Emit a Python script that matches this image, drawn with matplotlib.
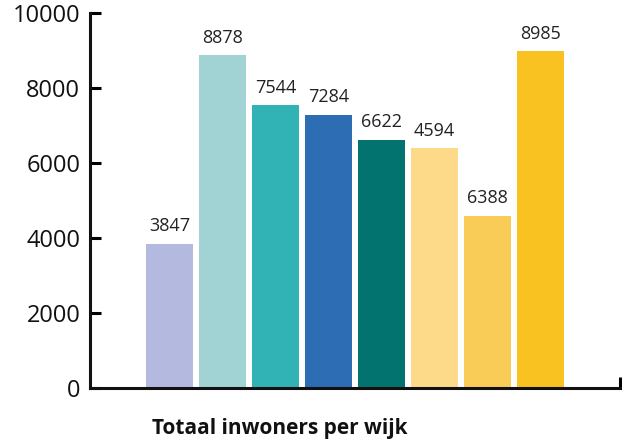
import matplotlib
matplotlib.use("Agg")
import matplotlib.pyplot as plt

plt.rcParams['font.family'] = ['Open Sans', 'DejaVu Sans']

categories = ["Wijk 1", "Wijk 2", "Wijk 3", "Wijk 4", "Wijk 5", "Wijk 6", "Wijk 7", "Wijk 8"]
values = [3847, 8878, 7544, 7284, 6622, 6388, 4594, 8985]
value_labels = ["3847", "8878", "7544", "7284", "6622", "4594", "6388", "8985"]
colors = ["#b3b9df", "#a1d3d4", "#31b3b5", "#2c6db3", "#037370", "#fdd98a", "#f9cc58", "#f9c220"]
yticks = [0, 2000, 4000, 6000, 8000, 10000]
title = "Totaal inwoners per wijk"

fig = plt.figure(figsize=(6.22, 4.43), dpi=100)
ax = fig.add_axes([0.1447, 0.1242, 0.8521, 0.8465])

x = list(range(len(values)))
bars = ax.bar(x, values, width=0.9, color=colors, zorder=2)
for xi, v, lab in zip(x, values, value_labels):
    ax.annotate(lab, (xi, v), xytext=(0, 6), textcoords="offset points",
                ha="center", va="bottom", fontsize=13, color="#222222")

ax.set_xlim(-1.5, 8.5)
ax.set_ylim(0, 10000)
ax.set_yticks(yticks)
ax.set_yticklabels([str(t) for t in yticks], fontsize=17, color="#111111")
ax.set_xticks([8.5])
ax.set_xticklabels([""])
ax.tick_params(axis="y", direction="in", length=8, width=2.2, pad=7)
ax.tick_params(axis="x", direction="in", length=8, width=2.2)
for s in ["top", "right"]:
    ax.spines[s].set_visible(False)
for s in ["left", "bottom"]:
    ax.spines[s].set_linewidth(2.2)
    ax.spines[s].set_color("#111111")
ax.spines["left"].set_bounds(0, 10000)

fig.text(0.450, 0.033, title, ha="center", va="center", fontsize=15, fontweight="bold",
         color="#111111")

fig.savefig("out.png", dpi=100)
